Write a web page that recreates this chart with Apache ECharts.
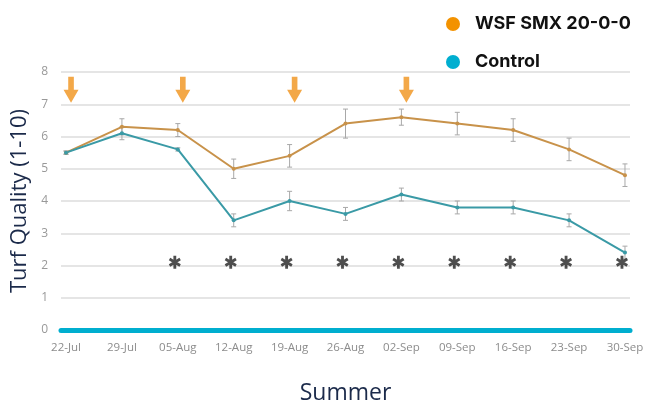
<!DOCTYPE html>
<html><head><meta charset="utf-8">
<script src="https://cdn.jsdelivr.net/npm/echarts@6/dist/echarts.min.js"></script>
<style>html,body{margin:0;padding:0;background:#fff}#c{width:646px;height:405px}</style>
</head><body><div id="c"></div>
<script>
const categories = ['22-Jul','29-Jul','05-Aug','12-Aug','19-Aug','26-Aug','02-Sep','09-Sep','16-Sep','23-Sep','30-Sep'];
const wsfValues = [5.5, 6.3, 6.2, 5.0, 5.4, 6.4, 6.6, 6.4, 6.2, 5.6, 4.8];
const wsfErr    = [0.05, 0.25, 0.2, 0.3, 0.35, 0.45, 0.25, 0.35, 0.35, 0.35, 0.35];
const ctlValues = [5.5, 6.1, 5.6, 3.4, 4.0, 3.6, 4.2, 3.8, 3.8, 3.4, 2.4];
const ctlErr    = [0.05, 0.2, 0.05, 0.2, 0.3, 0.2, 0.2, 0.2, 0.2, 0.2, 0.2];
const applicationIdx = [0, 2, 4, 6];
const applicationLevel = 7.45;
const signifIdx = [2, 3, 4, 5, 6, 7, 8, 9, 10];
const signifLevel = 2.1;
const yTicks = [0,1,2,3,4,5,6,7,8];

function pairs(vals){ return vals.map((v,i)=>[i,v]); }
function errData(vals, errs){ return vals.map((v,i)=>[i, v-errs[i], v+errs[i]]); }

function asteriskPath(){
  const r=6, w=1.4, parts=[];
  [90,30,-30].forEach(a=>{
    const t=a*Math.PI/180, c=Math.cos(t), s=Math.sin(t);
    const px=-s*w, py=c*w;
    const pts=[[r*c+px,r*s+py],[r*c-px,r*s-py],[-r*c-px,-r*s-py],[-r*c+px,-r*s+py]];
    parts.push('M'+pts.map(p=>(p[0]+r).toFixed(2)+','+(p[1]+r).toFixed(2)).join(' L')+' Z');
  });
  return 'path://'+parts.join(' ');
}

function errSeries(name, vals, errs){
  return {
    type:'custom', name:name+'_err', silent:true, z:3,
    data: errData(vals, errs),
    renderItem:(params, api)=>{
      const x=api.value(0), lo=api.coord([x, api.value(1)]), hi=api.coord([x, api.value(2)]);
      const cap=2.5, st={stroke:'#a8a8a8', lineWidth:1};
      return {type:'group', children:[
        {type:'line', shape:{x1:lo[0],y1:lo[1],x2:hi[0],y2:hi[1]}, style:st},
        {type:'line', shape:{x1:lo[0]-cap,y1:lo[1],x2:lo[0]+cap,y2:lo[1]}, style:st},
        {type:'line', shape:{x1:hi[0]-cap,y1:hi[1],x2:hi[0]+cap,y2:hi[1]}, style:st}
      ]};
    }
  };
}

const chart = echarts.init(document.getElementById('c'));
chart.setOption({
  animation:false,
  backgroundColor:'#fff',
  grid:{left:61, right:16, top:72, bottom:75, containLabel:false, outerBoundsMode:'none'},
  legend:{
    orient:'vertical', left:441, top:10, itemWidth:14, itemHeight:14, itemGap:20,
    icon:'circle',
    textStyle:{fontFamily:'Inter', fontWeight:'bold', fontSize:18, color:'#111', padding:[0,0,0,10]},
    data:[{name:'WSF SMX 20-0-0', itemStyle:{color:'#f39200'}},{name:'Control', itemStyle:{color:'#00aed0'}}]
  },
  xAxis:{
    type:'value', min:-0.09, max:10.09,
    name:'Summer', nameLocation:'middle', nameGap:52,
    nameTextStyle:{fontFamily:'Open Sans', fontSize:23, color:'#1b2a4a'},
    axisLine:{show:true, onZero:false, lineStyle:{color:'#00aecf', width:5}},
    axisTick:{show:false},
    splitLine:{show:false},
    axisLabel:{customValues: categories.map((c,i)=>i), formatter:v=>categories[Math.round(v)] || '',
      color:'#8c8c8c', fontSize:11.5, fontFamily:'Open Sans', margin:12}
  },
  yAxis:{
    type:'value', min:0, max:8, interval:1,
    name:'Turf Quality (1-10)', nameLocation:'middle', nameGap:29,
    nameTextStyle:{fontFamily:'Open Sans', fontSize:22, color:'#1b2a4a'},
    axisLine:{show:false}, axisTick:{show:false},
    axisLabel:{color:'#999', fontSize:12, fontFamily:'Open Sans', margin:13, formatter:v=>yTicks.includes(v)?String(v):''},
    splitLine:{lineStyle:{color:'#dcdcdc', width:1.5}}
  },
  series:[
    errSeries('WSF SMX 20-0-0', wsfValues, wsfErr),
    errSeries('Control', ctlValues, ctlErr),
    {name:'WSF SMX 20-0-0', type:'line', data:pairs(wsfValues), z:4,
      symbol:'circle', symbolSize:4, itemStyle:{color:'#c8924a'}, lineStyle:{color:'#c8924a', width:2}},
    {name:'Control', type:'line', data:pairs(ctlValues), z:4,
      symbol:'circle', symbolSize:4, itemStyle:{color:'#3a9aa6'}, lineStyle:{color:'#3a9aa6', width:2}},
    {name:'applications', type:'scatter', z:5, silent:true,
      data:applicationIdx.map(i=>[i, applicationLevel]),
      symbol:'path://M5,0 L11,0 L11,13 L16,13 L8,26 L0,13 L5,13 Z', symbolSize:[15,26], symbolOffset:[5,0],
      itemStyle:{color:'#f0921a'}},
    {name:'significance', type:'scatter', z:5, silent:true,
      data:signifIdx.map(i=>[i, signifLevel]),
      symbol:asteriskPath(), symbolSize:[12,13], symbolOffset:[-3,0],
      itemStyle:{color:'#222'}}
  ]
});
</script></body></html>
